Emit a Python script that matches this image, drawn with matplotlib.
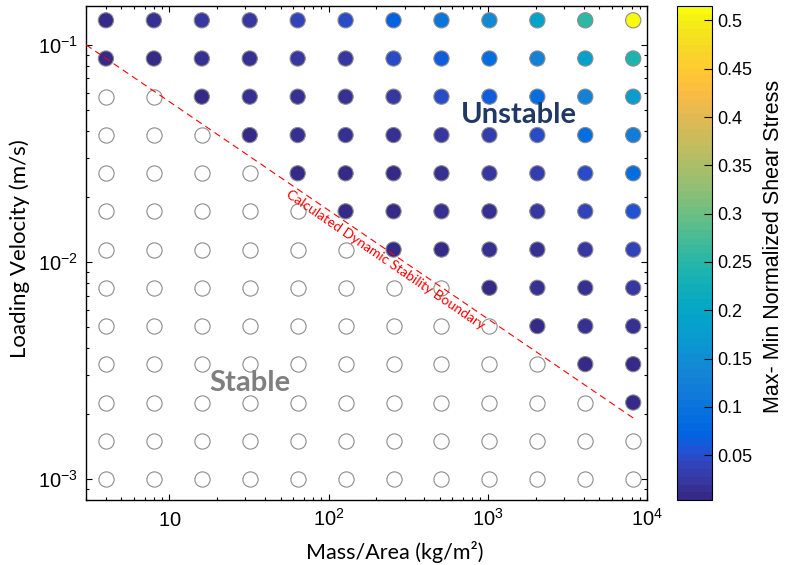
import numpy as np
import matplotlib
matplotlib.use('Agg')
import matplotlib.pyplot as plt
from matplotlib.colors import LinearSegmentedColormap, Normalize
from matplotlib.ticker import FuncFormatter, NullFormatter

plt.rcParams['font.family'] = ['Liberation Sans', 'DejaVu Sans']
plt.rcParams['mathtext.fontset'] = 'custom'
plt.rcParams['mathtext.rm'] = 'Liberation Sans'

# test grid: mass per area (kg/m^2) and loading velocity (m/s)
mass_area = [4, 8, 16, 32, 64, 128, 256, 512, 1024, 2048, 4096, 8192]
velocity = [0.1297, 0.0865, 0.0577, 0.0384, 0.0256, 0.0171, 0.0114,
            0.0076, 0.00506, 0.00338, 0.00225, 0.0015, 0.001]

# max-min normalized shear stress, one row per velocity (top row = fastest)
# nan marks a stable run (drawn as an open circle)
nan = np.nan
shear_range = [
    [0.005, 0.013, 0.020, 0.022, 0.042, 0.046, 0.073, 0.101, 0.142, 0.190, 0.255, 0.515],
    [0.010, 0.008, 0.018, 0.018, 0.023, 0.025, 0.046, 0.060, 0.085, 0.125, 0.182, 0.240],
    [nan, nan, 0.004, 0.018, 0.018, 0.018, 0.024, 0.046, 0.060, 0.086, 0.128, 0.174],
    [nan, nan, nan, 0.005, 0.019, 0.012, 0.013, 0.020, 0.032, 0.047, 0.085, 0.117],
    [nan, nan, nan, nan, 0.005, 0.005, 0.007, 0.016, 0.022, 0.030, 0.048, 0.085],
    [nan, nan, nan, nan, nan, 0.005, 0.006, 0.012, 0.016, 0.022, 0.040, 0.056],
    [nan, nan, nan, nan, nan, nan, 0.005, 0.006, 0.012, 0.014, 0.020, 0.038],
    [nan, nan, nan, nan, nan, nan, nan, nan, 0.005, 0.012, 0.014, 0.020],
    [nan, nan, nan, nan, nan, nan, nan, nan, nan, 0.005, 0.013, 0.016],
    [nan, nan, nan, nan, nan, nan, nan, nan, nan, nan, 0.005, 0.008],
    [nan, nan, nan, nan, nan, nan, nan, nan, nan, nan, nan, 0.008],
    [nan] * 12,
    [nan] * 12,
]

# calculated dynamic stability boundary (end points)
boundary_mass = [3, 8192]
boundary_vel = [0.1, 0.00191]

xtick_vals = [10, 100, 1000, 10000]
xtick_labels = ['10', '10^{2}', '10^{3}', '10^{4}']
ytick_vals = [0.001, 0.01, 0.1]
ytick_labels = ['10^{-3}', '10^{-2}', '10^{-1}']
cbar_ticks = [0.05, 0.1, 0.15, 0.2, 0.25, 0.3, 0.35, 0.4, 0.45, 0.5]

# parula, sampled from the 64-entry table
parula_pts = [
    (0, (0.2081, 0.1663, 0.5292)), (2, (0.2123, 0.2138, 0.6270)),
    (4, (0.1959, 0.2645, 0.7279)), (6, (0.1253, 0.3242, 0.8303)),
    (7, (0.0591, 0.3598, 0.8683)), (8, (0.0117, 0.3875, 0.8820)),
    (10, (0.0165, 0.4266, 0.8786)), (13, (0.0629, 0.4737, 0.8554)),
    (16, (0.0793, 0.5200, 0.8312)), (19, (0.0488, 0.5772, 0.8228)),
    (22, (0.0239, 0.6287, 0.8038)), (25, (0.0267, 0.6642, 0.7607)),
    (28, (0.0843, 0.6928, 0.7062)), (31, (0.1801, 0.7177, 0.6424)),
    (34, (0.3022, 0.7376, 0.5712)), (37, (0.4420, 0.7481, 0.5033)),
    (40, (0.5709, 0.7485, 0.4494)), (43, (0.6834, 0.7435, 0.4044)),
    (46, (0.7858, 0.7356, 0.3633)), (49, (0.8824, 0.7274, 0.3217)),
    (52, (0.9739, 0.7314, 0.2666)), (54, (0.9990, 0.7653, 0.2164)),
    (56, (0.9880, 0.8066, 0.1794)), (58, (0.9697, 0.8481, 0.1475)),
    (60, (0.9589, 0.8949, 0.1132)), (62, (0.9661, 0.9514, 0.0755)),
    (63, (0.9763, 0.9831, 0.0538)),
]
parula = LinearSegmentedColormap.from_list(
    'parula', [(i / 63, c) for i, c in parula_pts], N=64)

M, V = np.meshgrid(mass_area, velocity)
S = np.array(shear_range, dtype=float)
unstable = ~np.isnan(S)

fig = plt.figure(figsize=(7.85, 5.65), dpi=100)
ax = fig.add_axes([0.1096, 0.115, 0.7146, 0.8744])
ax.set_xscale('log')
ax.set_yscale('log')
ax.set_xlim(3, 1e4)
ax.set_ylim(8e-4, 0.151)

edge = '#8c8c8c'
ax.scatter(M[~unstable], V[~unstable], s=120, facecolors='white',
           edgecolors=edge, linewidths=0.8, zorder=2)
norm = Normalize(vmin=0.0035, vmax=S[unstable].max())
sc = ax.scatter(M[unstable], V[unstable], c=S[unstable], cmap=parula, norm=norm,
                s=120, edgecolors=edge, linewidths=0.8, zorder=3)

ax.plot(boundary_mass, boundary_vel, color='red', lw=0.8, dashes=(6, 4), zorder=4)

# axis ticks, MATLAB style (inward, all four sides)
ax.tick_params(which='both', direction='in', top=True, right=True, width=0.8,
               labelsize=14.5)
ax.tick_params(which='major', length=4.5)
ax.tick_params(which='minor', length=2.5)
ax.tick_params(axis='x', which='major', pad=18.5)
ax.tick_params(axis='y', which='major', pad=6)
ax.set_xticks(xtick_vals, [r'$\mathregular{%s}$' % t for t in xtick_labels])
ax.set_yticks(ytick_vals, [r'$\mathregular{%s}$' % t for t in ytick_labels])
ax.xaxis.set_minor_formatter(NullFormatter())
ax.yaxis.set_minor_formatter(NullFormatter())
plt.setp(ax.get_xticklabels(), va='baseline')
for s in ax.spines.values():
    s.set_linewidth(1.0)

label_font = ['Lato', 'DejaVu Sans']
ax.set_xlabel('Mass/Area (kg/m²)', fontsize=15.5, family=label_font)
ax.xaxis.set_label_coords(0.551, -0.083)
ax.set_ylabel('Loading Velocity (m/s)', fontsize=16, family=label_font)
ax.yaxis.set_label_coords(-0.1, 0.509)

ax.text(1560, 0.0473, 'Unstable', fontsize=21, fontweight='bold',
        color='#1f3864', family=label_font, ha='center', va='center')
ax.text(31.9, 0.00277, 'Stable', fontsize=21, fontweight='bold',
        color='#7f7f7f', family=label_font, ha='center', va='center')

# label along the boundary, rotated to the line's on-screen angle
p0, p1 = ax.transData.transform([(boundary_mass[0], boundary_vel[0]),
                                 (boundary_mass[1], boundary_vel[1])])
angle = np.degrees(np.arctan2(p1[1] - p0[1], p1[0] - p0[0]))
ax.text(226, 0.0102, 'Calculated Dynamic Stability Boundary', rotation=angle,
        rotation_mode='anchor', ha='center', va='center', color='red',
        fontsize=10, family=label_font, zorder=5)

# colorbar
cax = fig.add_axes([677 / 785, 0.115, 35 / 785, 0.8744])
cb = fig.colorbar(sc, cax=cax)
cb.set_ticks(cbar_ticks)
cb.ax.yaxis.set_major_formatter(FuncFormatter(lambda v, pos: f'{v:g}'))
cb.ax.minorticks_off()
cb.ax.tick_params(direction='in', length=6, width=0.8, labelsize=13, pad=4)
cb.outline.set_linewidth(0.8)
cb.set_label('Max- Min Normalized Shear Stress', fontsize=15.5)
cb.ax.yaxis.set_label_coords(2.46, 0.514)

fig.savefig('out.png', dpi=100)
